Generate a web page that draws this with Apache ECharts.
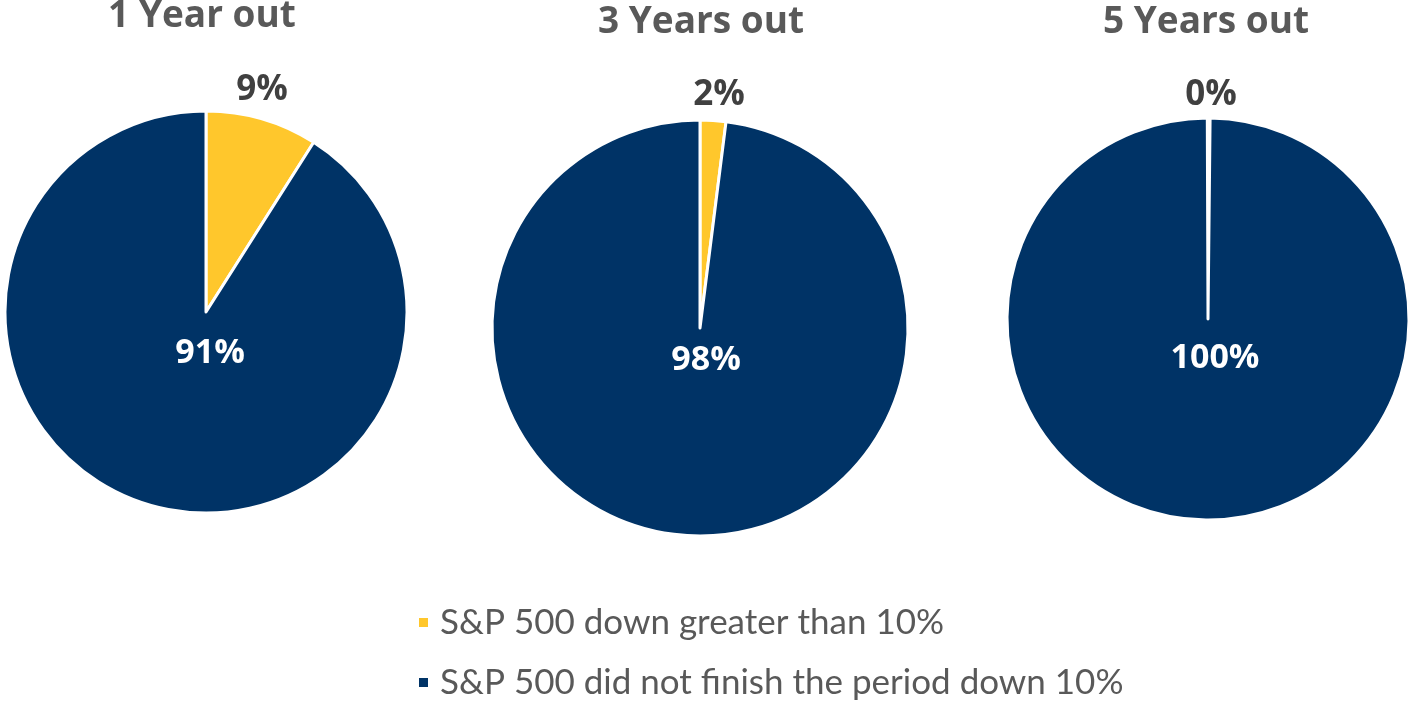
<!DOCTYPE html>
<html><head><meta charset="utf-8">
<script src="https://cdn.jsdelivr.net/npm/echarts@6/dist/echarts.min.js"></script>
<style>html,body{margin:0;padding:0;background:#fff;}#c{width:1413px;height:701px;}</style>
</head><body><div id="c"></div>
<script>
const categories = ['S&P 500 down greater than 10%', 'S&P 500 did not finish the period down 10%'];
const periods = ['1 Year out', '3 Years out', '5 Years out'];
const downValues = [9, 2, 0];
const notDownValues = [91, 98, 100];

const colors = ['#FFC72C', '#003366'];
const FONT = '"Open Sans"';
const LEGEND_FONT = 'Lato';
const layouts = [
  {center: [206, 312], radius: 201, titleX: 197, titleY: -7, outUp: 222, outRight: 56, inDown: 41, inRight: 4, pad: 0},
  {center: [700, 328], radius: 208, titleX: 696, titleY: -1, outUp: 233, outRight: 19, inDown: 32, inRight: 6, pad: 0},
  {center: [1208, 319], radius: 201, titleX: 1201, titleY: -1, outUp: 224, outRight: 3, inDown: 39, inRight: 7, pad: 0.4}
];
const legendTops = [600, 660];

function richLabel(color, size, up, right, down) {
  const sp = up > 0 ? 2 * up : 2 * down;
  const fmt = up > 0 ? '{v|{c}%}\n{s|}' : '{s|}\n{v|{c}%}';
  return {
    show: true, position: 'center', formatter: fmt,
    rich: {
      v: {color: color, fontFamily: FONT, fontWeight: 'bold', fontSize: size, height: size, lineHeight: size, padding: [0, 0, 0, 2 * right]},
      s: {height: sp, lineHeight: sp, fontSize: 1}
    }
  };
}

const series = periods.map((p, i) => {
  const L = layouts[i];
  return {
    type: 'pie',
    name: p,
    center: L.center,
    radius: L.radius,
    startAngle: 90,
    clockwise: true,
    padAngle: L.pad,
    avoidLabelOverlap: false,
    labelLayout: {hideOverlap: false},
    stillShowZeroSum: true,
    emphasis: {disabled: true},
    itemStyle: {borderColor: '#fff', borderWidth: 3},
    labelLine: {show: false},
    data: [
      {name: categories[0], value: downValues[i], itemStyle: {color: colors[0]},
       label: richLabel('#404040', 35, L.outUp, L.outRight, 0)},
      {name: categories[1], value: notDownValues[i], itemStyle: {color: colors[1]},
       label: richLabel('#ffffff', 34, 0, L.inRight, L.inDown)}
    ]
  };
});

const chart = echarts.init(document.getElementById('c'), null, {renderer: 'canvas'});
chart.setOption({
  animation: false,
  backgroundColor: '#fff',
  title: periods.map((p, i) => ({
    text: p, left: layouts[i].titleX, top: layouts[i].titleY, textAlign: 'center',
    textStyle: {color: '#595959', fontFamily: FONT, fontWeight: 'bold', fontSize: 37}
  })),
  legend: categories.map((c, i) => ({
    orient: 'vertical',
    left: 412,
    top: legendTops[i],
    itemWidth: 11,
    itemHeight: 11,
    icon: 'rect',
    selectedMode: false,
    data: [c],
    textStyle: {color: '#595959', fontFamily: LEGEND_FONT, fontSize: 35, padding: [0, 0, 0, 6]}
  })),
  series: series
});
</script></body></html>
